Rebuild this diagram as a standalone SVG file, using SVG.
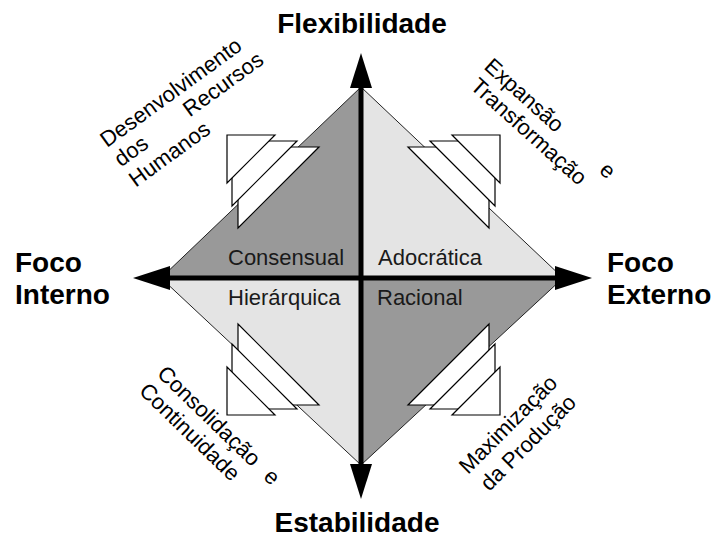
<svg xmlns="http://www.w3.org/2000/svg" width="717" height="539" viewBox="0 0 717 539">
  <style>
    .dark { fill: #999999; }
    .light { fill: #e4e4e4; }
    .edge { fill: none; stroke: #222222; stroke-width: 1; }
    .tri { fill: #ffffff; stroke: #000000; stroke-width: 1.2; stroke-linejoin: miter; }
    .axis { stroke: #000000; stroke-width: 5; }
    .head { fill: #000000; }
    .title { font-family: "Liberation Sans", Arial, sans-serif; font-weight: bold; font-size: 28px; fill: #000000; }
    .quad { font-family: "Liberation Sans", Arial, sans-serif; font-size: 22px; fill: #1a1a1a; }
    .lbl { font-family: "Liberation Sans", Arial, sans-serif; font-size: 22px; fill: #000000; }
  </style>

  <!-- quadrants of the diamond -->
  <g id="quadrants">
    <polygon id="q-consensual" class="dark" points="161,278 361,87 361,278"/>
    <polygon id="q-adocratica" class="light" points="361,87 563,278 361,278"/>
    <polygon id="q-racional" class="dark" points="563,278 361,465 361,278"/>
    <polygon id="q-hierarquica" class="light" points="361,465 161,278 361,278"/>
    <polygon class="edge" points="161,278 361,87 563,278 361,465"/>
  </g>

  <!-- stacked triangle markers on each outer edge -->
  <g id="marker-tl">
    <polygon class="tri" points="238,147 319,147 238,228"/>
    <polygon class="tri" points="232,141 297,141 232,206"/>
    <polygon class="tri" points="227,135 275,135 227,183"/>
  </g>
  <g id="marker-tr">
    <polygon class="tri" points="489,147 408,147 489,228"/>
    <polygon class="tri" points="495,141 430,141 495,206"/>
    <polygon class="tri" points="500,135 452,135 500,183"/>
  </g>
  <g id="marker-br">
    <polygon class="tri" points="489,405 408,405 489,324"/>
    <polygon class="tri" points="495,409 430,409 495,344"/>
    <polygon class="tri" points="500,415 452,415 500,367"/>
  </g>
  <g id="marker-bl">
    <polygon class="tri" points="238,405 319,405 238,324"/>
    <polygon class="tri" points="232,409 297,409 232,344"/>
    <polygon class="tri" points="227,415 275,415 227,367"/>
  </g>

  <!-- axes with arrowheads -->
  <g id="connectors">
    <line class="axis" x1="168" y1="278" x2="557" y2="278"/>
    <line class="axis" x1="361" y1="86" x2="361" y2="466"/>
    <polygon class="head" points="133,278 170,266 170,290"/>
    <polygon class="head" points="592,278 555,266 555,290"/>
    <polygon class="head" points="361,53 350,88 372,88"/>
    <polygon class="head" points="361,499 350,464 372,464"/>
  </g>

  <!-- quadrant names -->
  <g id="label-consensual"><text class="quad" x="228" y="265">Consensual</text></g>
  <g id="label-adocratica"><text class="quad" x="378" y="265">Adocrática</text></g>
  <g id="label-hierarquica"><text class="quad" x="228" y="305">Hierárquica</text></g>
  <g id="label-racional"><text class="quad" x="377" y="305">Racional</text></g>

  <!-- axis titles -->
  <g id="title-top"><text class="title" x="362" y="33" text-anchor="middle">Flexibilidade</text></g>
  <g id="title-bottom"><text class="title" x="357" y="532" text-anchor="middle">Estabilidade</text></g>
  <g id="title-left">
    <text class="title" x="15" y="272">Foco</text>
    <text class="title" x="15" y="304">Interno</text>
  </g>
  <g id="title-right">
    <text class="title" x="607" y="272">Foco</text>
    <text class="title" x="607" y="304">Externo</text>
  </g>

  <!-- diagonal captions -->
  <g id="caption-tl" transform="translate(107,148) rotate(-36)">
    <text class="lbl" x="0" y="0">Desenvolvimento</text>
    <text class="lbl" x="0" y="24">dos</text>
    <text class="lbl" x="85" y="24">Recursos</text>
    <text class="lbl" x="0" y="49">Humanos</text>
  </g>
  <g id="caption-tr" transform="translate(483,68) rotate(42)">
    <text class="lbl" x="0" y="0">Expansão</text>
    <text class="lbl" x="155" y="0">e</text>
    <text class="lbl" x="3" y="24">Transformação</text>
  </g>
  <g id="caption-bl" transform="translate(156,375) rotate(44)">
    <text class="lbl" x="0" y="0">Consolidação</text>
    <text class="lbl" x="148" y="0">e</text>
    <text class="lbl" x="-1" y="25">Continuidade</text>
  </g>
  <g id="caption-br" transform="translate(468,475) rotate(-45)">
    <text class="lbl" x="0" y="0">Maximização</text>
    <text class="lbl" x="3" y="27">da Produção</text>
  </g>
</svg>
